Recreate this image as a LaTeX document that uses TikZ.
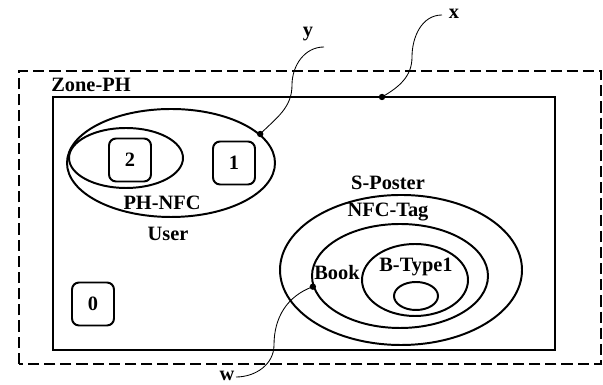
\documentclass[tikz,border=0pt]{standalone}
\usepackage{fontspec}
\setmainfont{Liberation Serif}
\usetikzlibrary{shapes.geometric}

\begin{document}
\begin{tikzpicture}[
  font=\fontsize{14.5}{17}\selectfont\bfseries,
  zone/.style={draw,line width=1.6pt},
  region/.style={ellipse,draw,line width=1.4pt,inner sep=0pt},
  agent/.style={draw,line width=1.4pt,rounded corners=5pt,minimum width=1.05cm,minimum height=1.075cm},
  link/.style={draw,line width=0.6pt},
  dot/.style={circle,fill,inner sep=0pt,minimum size=0.16cm}
]
  \useasboundingbox (0,0) rectangle (15.075,9.625);
  \draw[line width=1.4pt,dash pattern=on 8pt off 3.5pt] (0.475,0.525) rectangle (15.025,7.85);
  \draw[zone] (1.325,0.875) rectangle (13.875,7.2);
  \node (zone) at (2.275,7.5) {Zone-PH};
  \node[region,minimum width=5.2cm,minimum height=2.7cm] (user) at (4.275,5.55) {};
  \node[region,minimum width=2.85cm,minimum height=1.5cm] (phnfc) at (3.15,5.675) {};
  \node[agent] (a2) at (3.25,5.625) {2};
  \node[agent] (a1) at (5.85,5.55) {1};
  \node[agent] (a0) at (2.325,2.025) {0};
  \node (phnfcl) at (4.05,4.55) {PH-NFC};
  \node (userl) at (4.2,3.775) {User};
  \node[region,minimum width=6.05cm,minimum height=3.75cm] (poster) at (10.025,2.875) {};
  \node[region,minimum width=4.4cm,minimum height=2.6cm] (tag) at (10.0,2.725) {};
  \node[region,minimum width=2.65cm,minimum height=1.8cm] (btype) at (10.375,2.625) {};
  \node[region,minimum width=1.1cm,minimum height=0.7cm] (inner) at (10.4,2.225) {};
  \node (posterl) at (9.7,5.05) {S-Poster};
  \node (tagl) at (9.7,4.325) {NFC-Tag};
  \node (bookl) at (8.425,2.8) {Book};
  \node (btypel) at (10.4,2.95) {B-Type1};
  \node (xl) at (11.35,9.28) {x};
  \node (yl) at (7.7,8.78) {y};
  \node (wl) at (5.675,0.22) {w};
  \node[dot] (px) at (9.55,7.2) {};
  \node[dot] (py) at (user.18) {};
  \node[dot] (pw) at (tag.187) {};
  \coordinate (xe) at (11.05,9.25);
  \coordinate (ye) at (8.1,8.45);
  \coordinate (we) at (5.9,0.2);
  \draw[link] (px.center) to[out=30,in=-90] (10.3,8.2) to[out=90,in=180] (xe);
  \draw[link] (py.center) to[out=45,in=-90] (7.3,7.5) to[out=90,in=180] (ye);
  \draw[link] (pw.center) to[out=200,in=90] (6.85,1.0) to[out=-90,in=0] (we);
\end{tikzpicture}
\end{document}
